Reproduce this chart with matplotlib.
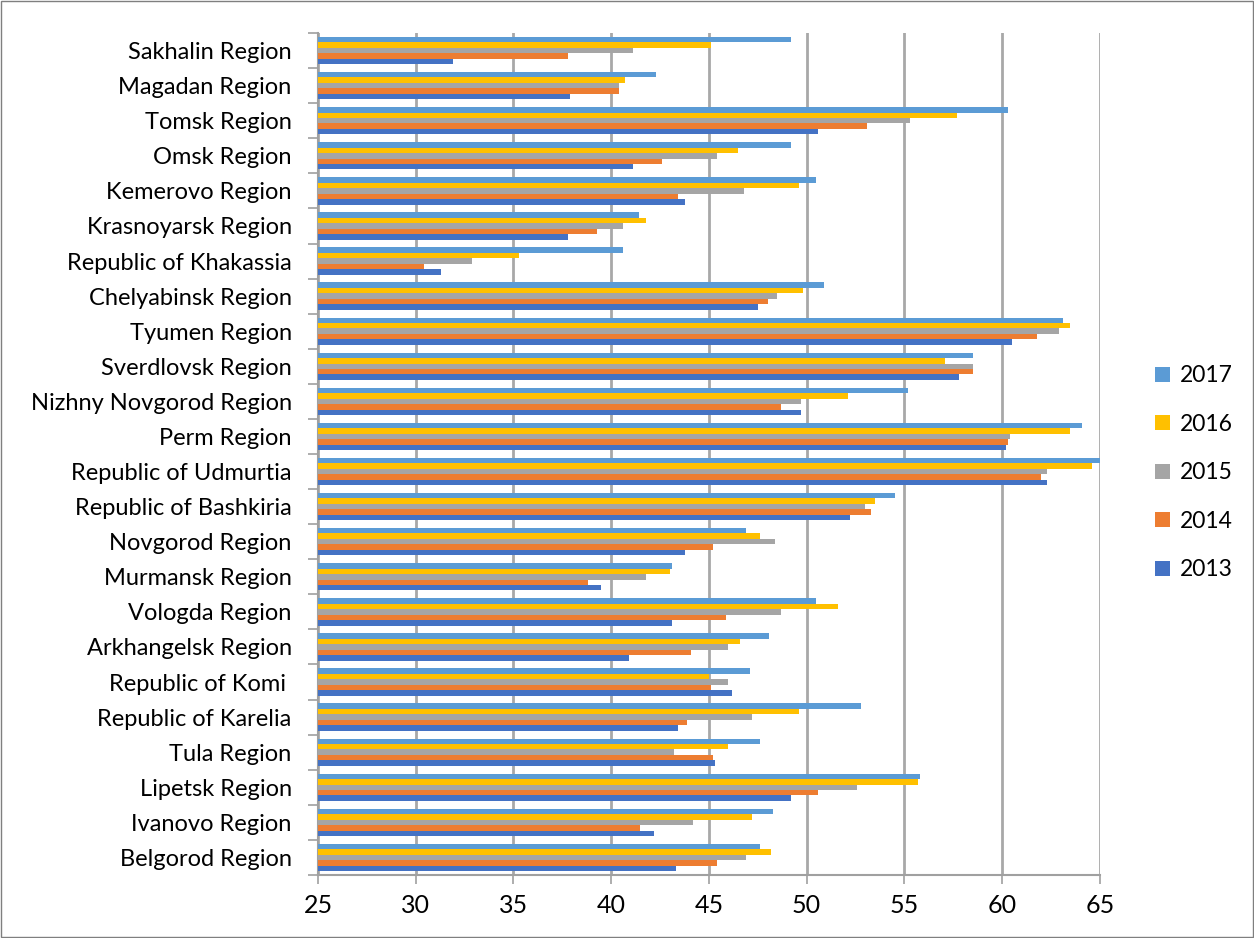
import matplotlib.pyplot as plt
import numpy as np
from matplotlib.patches import Rectangle

plt.rcParams['font.family'] = ['Lato', 'DejaVu Sans']

# categories listed bottom to top
regions = ["Belgorod Region", "Ivanovo Region", "Lipetsk Region", "Tula Region",
           "Republic of Karelia", "Republic of Komi ", "Arkhangelsk Region",
           "Vologda Region", "Murmansk Region", "Novgorod Region",
           "Republic of Bashkiria", "Republic of Udmurtia", "Perm Region",
           "Nizhny Novgorod Region", "Sverdlovsk Region", "Tyumen Region",
           "Chelyabinsk Region", "Republic of Khakassia", "Krasnoyarsk Region",
           "Kemerovo Region", "Omsk Region", "Tomsk Region", "Magadan Region",
           "Sakhalin Region"]

v2013 = [43.3, 42.2, 49.2, 45.3, 43.4, 46.2, 40.9, 43.1, 39.5, 43.8, 52.2, 62.3,
         60.2, 49.7, 57.8, 60.5, 47.5, 31.3, 37.8, 43.8, 41.1, 50.6, 37.9, 31.9]
v2014 = [45.4, 41.5, 50.6, 45.2, 43.9, 45.1, 44.1, 45.9, 38.8, 45.2, 53.3, 62.0,
         60.3, 48.7, 58.5, 61.8, 48.0, 30.4, 39.3, 43.4, 42.6, 53.1, 40.4, 37.8]
v2015 = [46.9, 44.2, 52.6, 43.2, 47.2, 46.0, 46.0, 48.7, 41.8, 48.4, 53.0, 62.3,
         60.4, 49.7, 58.5, 62.9, 48.5, 32.9, 40.6, 46.8, 45.4, 55.3, 40.4, 41.1]
v2016 = [48.2, 47.2, 55.7, 46.0, 49.6, 45.0, 46.6, 51.6, 43.0, 47.6, 53.5, 64.6,
         63.5, 52.1, 57.1, 63.5, 49.8, 35.3, 41.8, 49.6, 46.5, 57.7, 40.7, 45.1]
v2017 = [47.6, 48.3, 55.8, 47.6, 52.8, 47.1, 48.1, 50.5, 43.1, 46.9, 54.5, 65.1,
         64.1, 55.2, 58.5, 63.1, 50.9, 40.6, 41.4, 50.5, 49.2, 60.3, 42.3, 49.2]

series = [("2013", v2013, "#4472C4"), ("2014", v2014, "#ED7D31"),
          ("2015", v2015, "#A5A5A5"), ("2016", v2016, "#FFC000"),
          ("2017", v2017, "#5B9BD5")]

fig = plt.figure(figsize=(12.54, 9.38), dpi=100)
ax = fig.add_axes([0.2536, 0.0672, 0.6234, 0.8976])

y = np.arange(len(regions))
h = 0.156
for i, (name, vals, col) in enumerate(series):
    ax.barh(y + (i - 2) * h, np.array(vals) - 25, left=25, height=h,
            color=col, label=name, zorder=3)

ax.set_xlim(25, 65)
ax.set_ylim(-0.5, len(regions) - 0.5)
ax.set_xticks(np.arange(25, 66, 5))
ax.set_yticks(y)
ax.set_yticklabels(regions, fontsize=17)
ax.set_yticks(np.arange(-0.5, len(regions), 1), minor=True)
ax.tick_params(axis='y', which='major', length=0, pad=19)
ax.tick_params(axis='y', which='minor', length=7, color='#A0A0A0', width=1.2)
ax.tick_params(axis='x', labelsize=18, length=6.5, color='#A0A0A0', width=1.2, pad=7)
ax.grid(axis='x', color='#A8A8A8', linewidth=2, zorder=0)
for s in ['top', 'right']:
    ax.spines[s].set_visible(False)
for s in ['left', 'bottom']:
    ax.spines[s].set_color('#A0A0A0')
    ax.spines[s].set_linewidth(1.5)

handles, labels = ax.get_legend_handles_labels()
fig.legend(handles[::-1], labels[::-1], loc='center left', bbox_to_anchor=(0.905, 0.496),
           frameon=False, fontsize=16.5, handlelength=0.65, handleheight=0.65,
           handletextpad=0.4, labelspacing=1.2)

fig.patches.append(Rectangle((0.001, 0.001), 0.998, 0.998, transform=fig.transFigure,
                             fill=False, edgecolor='#7F7F7F', linewidth=1))

fig.savefig("out.png", dpi=100)
